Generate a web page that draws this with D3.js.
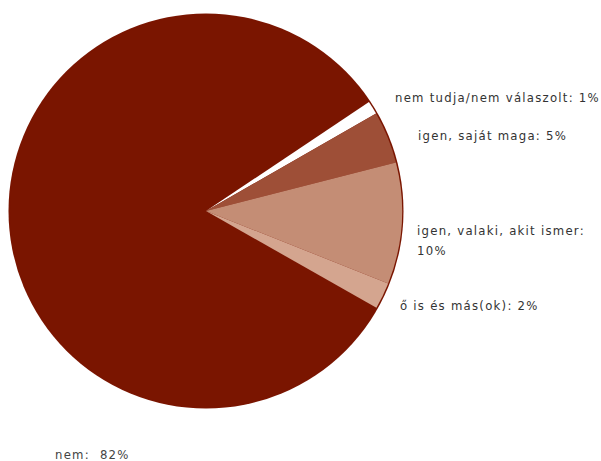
<!DOCTYPE html>
<html><head><meta charset="utf-8">
<script src="https://cdn.jsdelivr.net/npm/d3@7"></script>
<style>body{margin:0;background:#fff}</style>
</head><body>
<svg id="c" width="601" height="461"></svg>
<script>
const categories = ["nem", "nem tudja/nem válaszolt", "igen, saját maga", "igen, valaki, akit ismer", "ő is és más(ok)"];
const values = [82.4, 1.1, 4.3, 10.0, 2.2];
const labels = ["nem:  82%", "nem tudja/nem válaszolt: 1%", "igen, saját maga: 5%", "igen, valaki, akit ismer:\n10%", "ő is és más(ok): 2%"];
const colors = ["#7a1500", "#ffffff", "#9e4f37", "#c48d75", "#d4a58f"];
const labelPos = [[55, 459], [395, 102], [418, 140], [417, 235], [400, 310]];

const svg = d3.select("#c");
const cx = 206, cy = 211, r = 196;
const start = 119.6 * Math.PI / 180;
const pie = d3.pie().sort(null).startAngle(start).endAngle(start + 2 * Math.PI);
const arcs = pie(values);
const arc = d3.arc().innerRadius(0).outerRadius(r);
const g = svg.append("g").attr("transform", `translate(${cx},${cy})`);
g.append("circle").attr("r", r + 1.5).attr("fill", colors[0]);
g.selectAll("path").data(arcs).join("path")
  .attr("d", arc)
  .attr("fill", (d, i) => colors[i]);

labels.forEach((t, i) => {
  const lines = t.split("\n");
  const txt = svg.append("text")
    .attr("x", labelPos[i][0]).attr("y", labelPos[i][1])
    .attr("font-family", "DejaVu Sans Condensed, DejaVu Sans")
    .attr("font-size", 13).attr("fill", i === 0 ? "#444" : "#333")
    .attr("letter-spacing", 1.25)
    .attr("xml:space", "preserve");
  lines.forEach((l, j) => {
    txt.append("tspan").attr("x", labelPos[i][0]).attr("dy", j === 0 ? 0 : 20).text(l);
  });
});
</script>
</body></html>
